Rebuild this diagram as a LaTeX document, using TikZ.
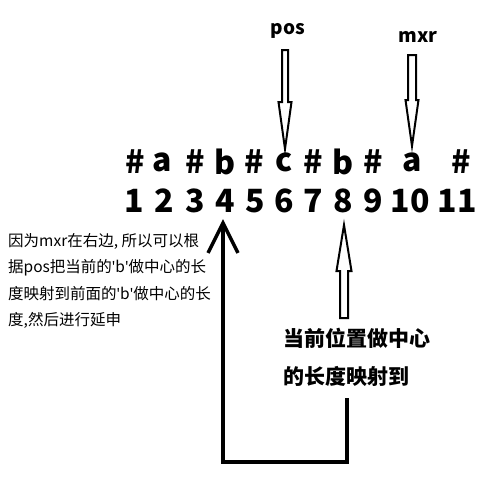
\documentclass[tikz,border=0pt]{standalone}
\usepackage{fontspec}
\setmainfont{Noto Sans CJK SC}
\newfontfamily\latinfont{Noto Sans}
\newcommand{\sq}{{\latinfont\char"0027}}
\usetikzlibrary{arrows.meta}

\begin{document}
\begin{tikzpicture}[x=1pt,y=-1pt]
      \tikzset{every node/.style={inner sep=0pt},
        ch/.style={font=\fontsize{32}{32}\bfseries\selectfont},
        tag/.style={font=\fontsize{19}{19}\bfseries\selectfont},
        hollow/.style={black,line width=2pt,line join=miter},
        bent/.style={black,line width=3.5pt,-{Straight Barb[length=30pt,width=30pt,line width=3.5pt]}}}
      \useasboundingbox (0,0) rectangle (501,480);
      % the string with separators
      \foreach \x/\c/\i in {135/\#/1,162/a/2,195/\#/3,225/b/4,254/\#/5,284/c/6,
                            313/\#/7,343/b/8,373/\#/9,412/a/10,461/\#/11}
        \node[ch] (s\i) at (\x,162) {\c};
      % positions
      \foreach \x/\i in {134/1,164/2,195/3,225/4,255/5,284/6,313/7,343/8,373/9,410/10,457/11}
        \node[ch] (n\i) at (\x,201) {\i};
      % pointers
      \node[tag] (pos) at (288,31) {pos};
      \node[tag] (mxr) at (418,37) {mxr};
      \coordinate (ptip) at (285,149);
      \coordinate (mtip) at (412,146);
      \draw[hollow] (ptip) -- ++(-6.5,-47) -- ++(3.5,0) -- ++(0,-52) -- ++(6,0)
        -- ++(0,52) -- ++(3.5,0) -- cycle;
      \draw[hollow] (mtip) -- ++(-6.5,-46) -- ++(2.5,0) -- ++(0,-45) -- ++(8,0)
        -- ++(0,45) -- ++(2.5,0) -- cycle;
      % explanation on the left
      \node[anchor=north west,align=left,
            font=\fontsize{15.5}{26.5}\selectfont] (note) at (8,233)
        {因为mxr在右边, 所以可以根\\
         据pos把当前的\sq b\sq 做中心的长\\
         度映射到前面的\sq b\sq 做中心的长\\
         度,然后进行延申};
      % mirror
      \coordinate (utip) at (344,225);
      \draw[hollow] (utip) -- ++(-7.5,46) -- ++(3.5,0) -- ++(0,47) -- ++(8,0)
        -- ++(0,-47) -- ++(3.5,0) -- cycle;
      \node[anchor=north west,align=left,
            font=\fontsize{21}{38}\bfseries\selectfont] (map) at (283,328)
        {当前位置做中心\\的长度映射到};
      \coordinate (low) at (347,398);
      \coordinate (t4) at (223,219);
      \draw[bent] (low) |- (223,462) -- (t4);
    \end{tikzpicture}
\end{document}
